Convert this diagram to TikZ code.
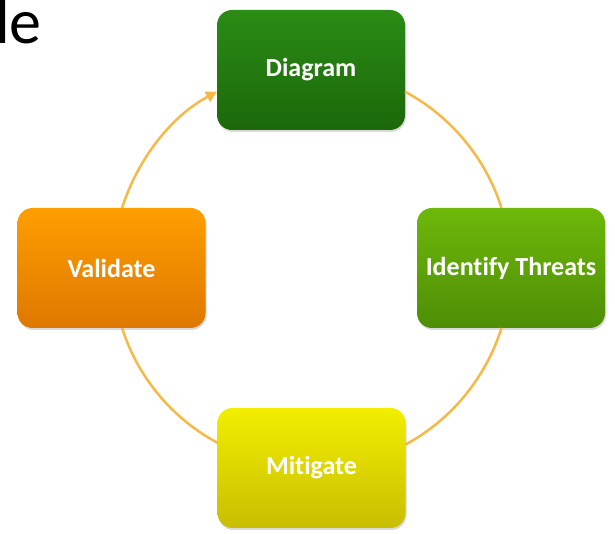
\documentclass[tikz,border=0pt]{standalone}
\usepackage{fontspec}
\setmainfont{Carlito}[Ligatures=NoCommon]
\usetikzlibrary{shadows,arrows.meta}
\definecolor{arcc}{RGB}{246,185,72}
\definecolor{dgTop}{RGB}{42,140,22}
\definecolor{dgBot}{RGB}{28,104,10}
\definecolor{idTop}{RGB}{110,184,10}
\definecolor{idBot}{RGB}{78,142,6}
\definecolor{miTop}{RGB}{242,238,0}
\definecolor{miBot}{RGB}{200,190,0}
\definecolor{vaTop}{RGB}{255,158,0}
\definecolor{vaBot}{RGB}{222,120,0}
\tikzset{
  stagebox/.style={rectangle, rounded corners=15pt, minimum width=188pt, minimum height=120pt,
    inner sep=0pt, outer sep=0pt, text=white, font=\bfseries\fontsize{26}{30}\selectfont,
    drop shadow={opacity=0.3, shadow xshift=1pt, shadow yshift=-2pt}},
  cyc/.style={draw=arcc, line width=2.5pt, looseness=0.88},
}
\begin{document}
\begin{tikzpicture}[x=1pt,y=1pt]
\useasboundingbox (0,0) rectangle (615,534);
\node[anchor=base west, inner sep=0pt, font=\fontsize{64}{66}\selectfont] (title) at (-5,490) {le};
\node[stagebox, top color=dgTop, bottom color=dgBot] (D) at (311,464) {Diagram};
\node[stagebox, top color=idTop, bottom color=idBot] (I) at (511,266) {Identify Threats};
\node[stagebox, top color=miTop, bottom color=miBot] (M) at (311.5,66) {Mitigate};
\node[stagebox, top color=vaTop, bottom color=vaBot] (V) at (111.5,266) {Validate};
\draw[cyc] (D.-13.5) to[out=-28.2, in=107.5] (I.99.7);
\draw[cyc] (I.-99.7) to[out=-107.5, in=28.2] (M.14.7);
\draw[cyc] (M.165.3) to[out=151.8, in=-72.5] (V.-80.7);
\draw[cyc, -{Triangle[length=11pt,width=11pt]}] (V.80.7) to[out=72.5, in=-151.8] (D.193.5);
\end{tikzpicture}
\end{document}
